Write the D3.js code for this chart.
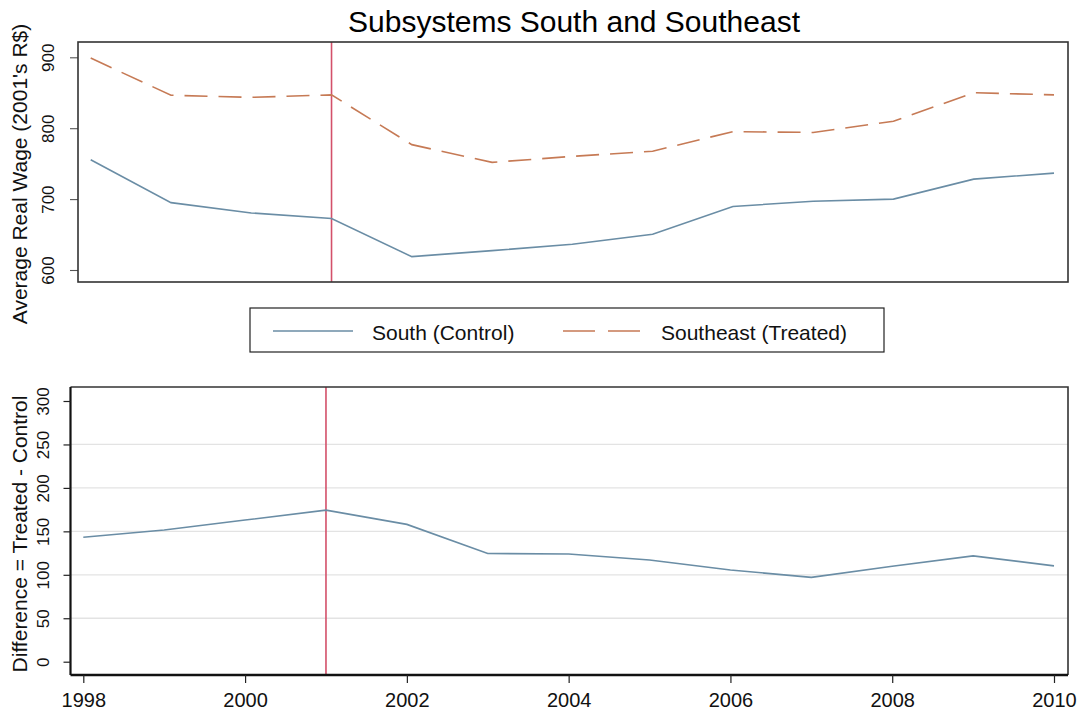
<!DOCTYPE html>
<html>
<head>
<meta charset="utf-8">
<script src="https://cdn.jsdelivr.net/npm/d3@7"></script>
<style>
  html, body { margin: 0; padding: 0; background: #fff; }
  svg { display: block; font-family: "Liberation Sans", Arial, sans-serif; }
</style>
</head>
<body>
<svg id="chart" width="1080" height="717"></svg>
<script>
// Annual average real wages (2001 R$), by subsystem
const years = [1998, 1999, 2000, 2001, 2002, 2003, 2004, 2005, 2006, 2007, 2008, 2009, 2010];
const southControl = [755.6, 695.0, 680.5, 672.6, 618.8, 627.3, 636.3, 650.5, 689.6, 697.0, 700.0, 728.2, 736.7];
const southeastTreated = [898.9, 846.5, 843.5, 847.0, 776.8, 751.8, 760.3, 767.5, 795.2, 794.0, 809.8, 850.0, 847.0];
const treatmentYear = 2001;

const wageTicks = [600, 700, 800, 900];
const diffTicks = [0, 50, 100, 150, 200, 250, 300];
const diffGrid = [50, 100, 150, 200, 250];
const yearTicks = [1998, 2000, 2002, 2004, 2006, 2008, 2010];

const difference = years.map((y, i) => southeastTreated[i] - southControl[i]);

const colSouth = "#6a8da5";
const colSoutheast = "#c67a55";
const colTreat = "#d3506a";
const fontYTick = 17;
const fontXTick = 20;
const fontAxisTitle = 21;

const svg = d3.select("#chart");

// Title
svg.append("text")
  .attr("x", 574).attr("y", 32)
  .attr("text-anchor", "middle")
  .attr("font-size", 30)
  .attr("fill", "#000")
  .text("Subsystems South and Southeast");

// ---------- Upper panel: wage levels ----------
const upper = { left: 78, right: 1068, top: 42, bottom: 282 };
const xUp = d3.scaleLinear().domain([1998, 2010]).range([90.7, 1054]);
const yUp = d3.scaleLinear().domain([600, 900]).range([270, 57.3]);

const gUp = svg.append("g");

const yAxisUp = d3.axisLeft(yUp).tickValues(wageTicks).tickSize(8).tickPadding(0);
const gya = gUp.append("g").attr("transform", `translate(${upper.left},0)`).call(yAxisUp);
gya.select(".domain").remove();
gya.selectAll(".tick line").attr("stroke", "#555").attr("stroke-width", 1.1);
gya.selectAll(".tick text")
  .attr("font-size", fontYTick).attr("fill", "#111")
  .attr("text-anchor", "middle")
  .attr("x", null).attr("dy", "0.35em")
  .attr("transform", "translate(-30,0) rotate(-90)");

svg.append("text")
  .attr("transform", `translate(27,${(upper.top + upper.bottom) / 2 + 12}) rotate(-90)`)
  .attr("text-anchor", "middle")
  .attr("font-size", fontAxisTitle)
  .attr("fill", "#111")
  .text("Average Real Wage (2001's R$)");

// Treatment marker
gUp.append("line")
  .attr("x1", xUp(treatmentYear)).attr("x2", xUp(treatmentYear))
  .attr("y1", upper.top).attr("y2", upper.bottom)
  .attr("stroke", colTreat).attr("stroke-width", 1.6);

const lineUp = d3.line().x((d, i) => xUp(years[i])).y(d => yUp(d));
gUp.append("path").datum(southControl)
  .attr("d", lineUp).attr("fill", "none")
  .attr("stroke", colSouth).attr("stroke-width", 1.6);
gUp.append("path").datum(southeastTreated)
  .attr("d", lineUp).attr("fill", "none")
  .attr("stroke", colSoutheast).attr("stroke-width", 1.6)
  .attr("stroke-dasharray", "23,11");

gUp.append("rect")
  .attr("x", upper.left).attr("y", upper.top)
  .attr("width", upper.right - upper.left).attr("height", upper.bottom - upper.top)
  .attr("fill", "none").attr("stroke", "#333").attr("stroke-width", 1.6);

// ---------- Legend ----------
const lg = svg.append("g");
lg.append("rect").attr("x", 250).attr("y", 308).attr("width", 634).attr("height", 44)
  .attr("fill", "#fff").attr("stroke", "#222").attr("stroke-width", 1.2);
lg.append("line").attr("x1", 273).attr("x2", 353).attr("y1", 331).attr("y2", 331)
  .attr("stroke", colSouth).attr("stroke-width", 1.6);
lg.append("text").attr("x", 372).attr("y", 333).attr("dy", "0.35em")
  .attr("font-size", 21).attr("fill", "#111").text("South (Control)");
lg.append("line").attr("x1", 563).attr("x2", 641).attr("y1", 331).attr("y2", 331)
  .attr("stroke", colSoutheast).attr("stroke-width", 1.6)
  .attr("stroke-dasharray", "32,13");
lg.append("text").attr("x", 661).attr("y", 333).attr("dy", "0.35em")
  .attr("font-size", 21).attr("fill", "#111").text("Southeast (Treated)");

// ---------- Lower panel: difference ----------
const lower = { left: 70.5, right: 1068, top: 387, bottom: 675 };
const xLow = d3.scaleLinear().domain([1998, 2010]).range([83.3, 1054]);
const yLow = d3.scaleLinear().domain([0, 300]).range([661.7, 401]);

const gLow = svg.append("g");

gLow.selectAll("line.grid").data(diffGrid).enter().append("line")
  .attr("class", "grid")
  .attr("x1", lower.left).attr("x2", lower.right)
  .attr("y1", d => yLow(d)).attr("y2", d => yLow(d))
  .attr("stroke", "#e3e3e3").attr("stroke-width", 1.3);

gLow.append("line")
  .attr("x1", xLow(treatmentYear)).attr("x2", xLow(treatmentYear))
  .attr("y1", lower.top).attr("y2", lower.bottom)
  .attr("stroke", colTreat).attr("stroke-width", 1.6);

const lineLow = d3.line().x((d, i) => xLow(years[i])).y(d => yLow(d));
gLow.append("path").datum(difference)
  .attr("d", lineLow).attr("fill", "none")
  .attr("stroke", colSouth).attr("stroke-width", 1.6);

// frame top and right
gLow.append("path")
  .attr("d", `M${lower.left},${lower.top}H${lower.right}V${lower.bottom}`)
  .attr("fill", "none").attr("stroke", "#333").attr("stroke-width", 1.6);

const yAxisLow = d3.axisLeft(yLow).tickValues(diffTicks).tickSize(7).tickPadding(0);
const gyb = gLow.append("g").attr("transform", `translate(${lower.left},0)`).call(yAxisLow);
gyb.select(".domain").attr("d", `M0,${lower.top}V${lower.bottom}`).attr("stroke", "#111").attr("stroke-width", 2.2);
gyb.selectAll(".tick line").attr("stroke", "#222").attr("stroke-width", 1.2);
gyb.selectAll(".tick text")
  .attr("font-size", fontYTick).attr("fill", "#111")
  .attr("x", null).attr("dy", "0.35em").attr("text-anchor", "middle")
  .attr("transform", "translate(-27,0) rotate(-90)");

svg.append("text")
  .attr("transform", `translate(27,${(lower.top + lower.bottom) / 2 + 3}) rotate(-90)`)
  .attr("text-anchor", "middle")
  .attr("font-size", fontAxisTitle)
  .attr("fill", "#111")
  .text("Difference = Treated - Control");

const xAxisLow = d3.axisBottom(xLow).tickValues(yearTicks).tickFormat(d3.format("d")).tickSize(8).tickPadding(10);
const gxb = gLow.append("g").attr("transform", `translate(0,${lower.bottom})`).call(xAxisLow);
gxb.select(".domain").attr("d", `M${lower.left},0H${lower.right}`).attr("stroke", "#111").attr("stroke-width", 2.6);
gxb.selectAll(".tick line").attr("stroke", "#222").attr("stroke-width", 1.2);
gxb.selectAll(".tick text").attr("font-size", fontXTick).attr("fill", "#111");
</script>
</body>
</html>
